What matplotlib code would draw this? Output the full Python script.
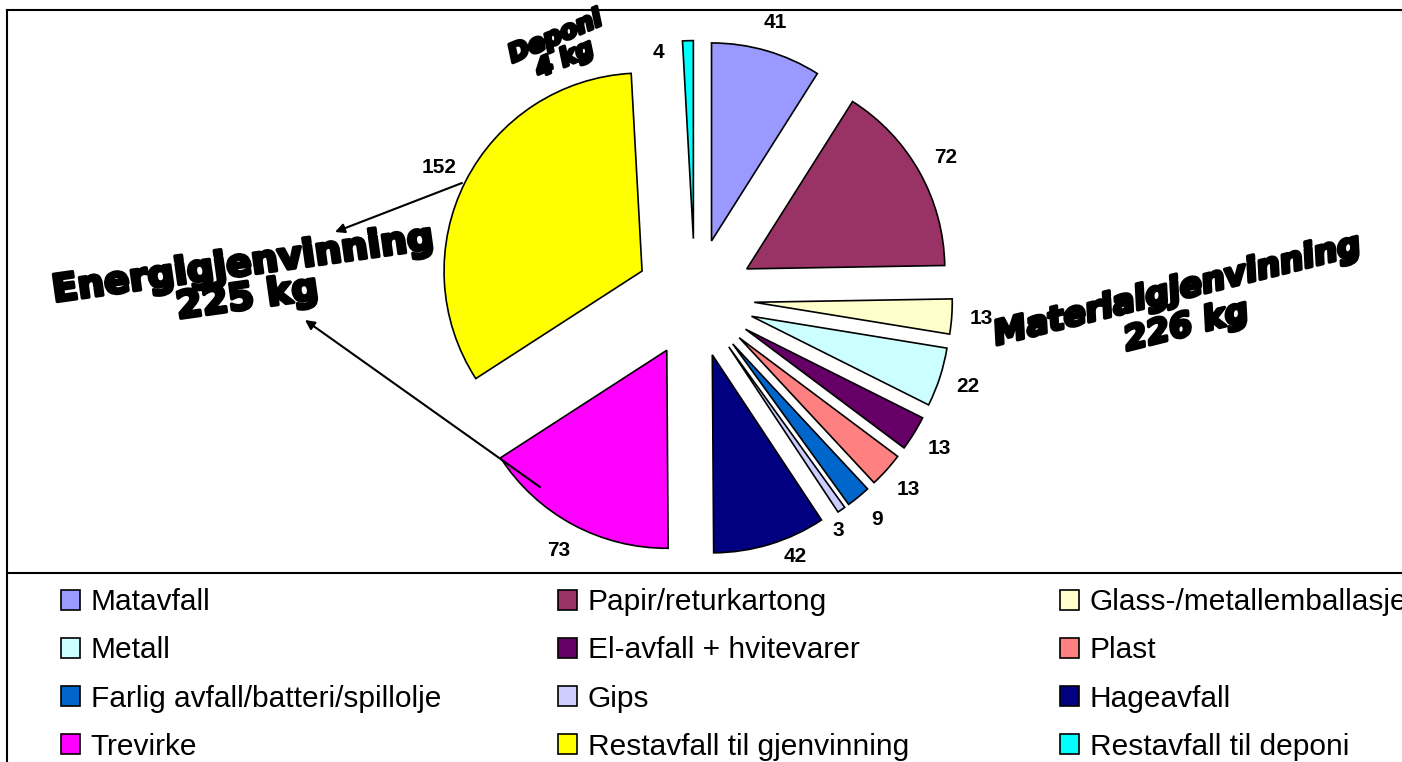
import matplotlib
matplotlib.use("Agg")
import matplotlib.pyplot as plt
import matplotlib.patheffects as pe
from matplotlib.lines import Line2D

# data
categories = ["Matavfall", "Papir/returkartong", "Glass-/metallemballasje",
              "Metall", "El-avfall + hvitevarer", "Plast",
              "Farlig avfall/batteri/spillolje", "Gips", "Hageavfall",
              "Trevirke", "Restavfall til gjenvinning", "Restavfall til deponi"]
values = [41, 72, 13, 22, 13, 13, 9, 3, 42, 73, 152, 4]
colors = ["#9999FF", "#993366", "#FFFFCC", "#CCFFFF", "#660066", "#FF8080",
          "#0066CC", "#CCCCFF", "#000080", "#FF00FF", "#FFFF00", "#00FFFF"]
group_labels = ["Energigjenvinning\n225 kg", "Materialgjenvinning\n226 kg", "Deponi\n4 kg"]

W, H = 1402, 762
CX, CY, R = 695, 298, 198  # pie centre / radius in pixels


def px(x, y):
    # pixel position -> data coords of the pie axes
    return ((x - CX) / R, (CY - y) / R)


fig = plt.figure(figsize=(W / 100, H / 100), dpi=100)
ax = fig.add_axes([0, 0, 1, 1])
total = sum(values)

wedges, texts, autotexts = ax.pie(
    values, colors=colors, explode=[0.3] * len(values), startangle=90,
    counterclock=False, pctdistance=1.15,
    autopct=lambda p: f"{p * total / 100:.0f}",
    wedgeprops=dict(edgecolor="black", linewidth=1.2),
    textprops=dict(fontsize=15, fontweight="bold", family="Liberation Sans"))

# a few labels moved like in the original
autotexts[7].set_position(px(838, 530))
autotexts[8].set_position(px(795, 556))
autotexts[11].set_position(px(658, 52))

ax.set_xlim(-CX / R, (W - CX) / R)
ax.set_ylim(-(H - CY) / R, CY / R)
ax.set_aspect("auto")
ax.axis("off")

# frame lines
for xs, ys in [([7, W], [10, 10]), ([7, 7], [10, H]), ([7, W], [573, 573])]:
    fig.add_artist(Line2D([x / W for x in xs], [1 - y / H for y in ys],
                          color="black", lw=1.5))

# group labels (WordArt-like)
stroke = [pe.withStroke(linewidth=2.5, foreground="black")]
ax.text(*px(245, 282), group_labels[0], rotation=8, ha="center", va="center",
        fontsize=27, fontweight="bold", family="DejaVu Sans", linespacing=0.92,
        path_effects=stroke)
ax.text(*px(1182, 308), group_labels[1], rotation=14, ha="center", va="center",
        fontsize=24, fontweight="bold", style="italic", family="DejaVu Sans",
        linespacing=1.15, path_effects=stroke)
ax.text(*px(560, 48), group_labels[2], rotation=23, ha="center", va="center",
        fontsize=18, fontweight="bold", style="italic", family="DejaVu Sans",
        linespacing=1.0, path_effects=stroke)

arrow = dict(arrowstyle="-|>", color="black", lw=1.5, mutation_scale=14,
             shrinkA=0, shrinkB=0)
ax.annotate("", xy=px(335, 232), xytext=px(462, 183), arrowprops=arrow)
ax.annotate("", xy=px(305, 320), xytext=px(540, 487), arrowprops=arrow)

# legend in three columns, filled row by row
col_x = [61, 558, 1060]
for c in range(3):
    idx = list(range(c, len(categories), 3))
    fig.legend([wedges[i] for i in idx], [categories[i] for i in idx],
               loc="center left", bbox_to_anchor=(col_x[c] / W, 1 - 674.5 / H),
               frameon=False, borderpad=0, borderaxespad=0,
               handlelength=0.64, handleheight=0.64, handletextpad=0.36,
               labelspacing=0.67,
               prop=dict(family="Liberation Sans", size=21.5))

fig.savefig("out.png", dpi=100)
